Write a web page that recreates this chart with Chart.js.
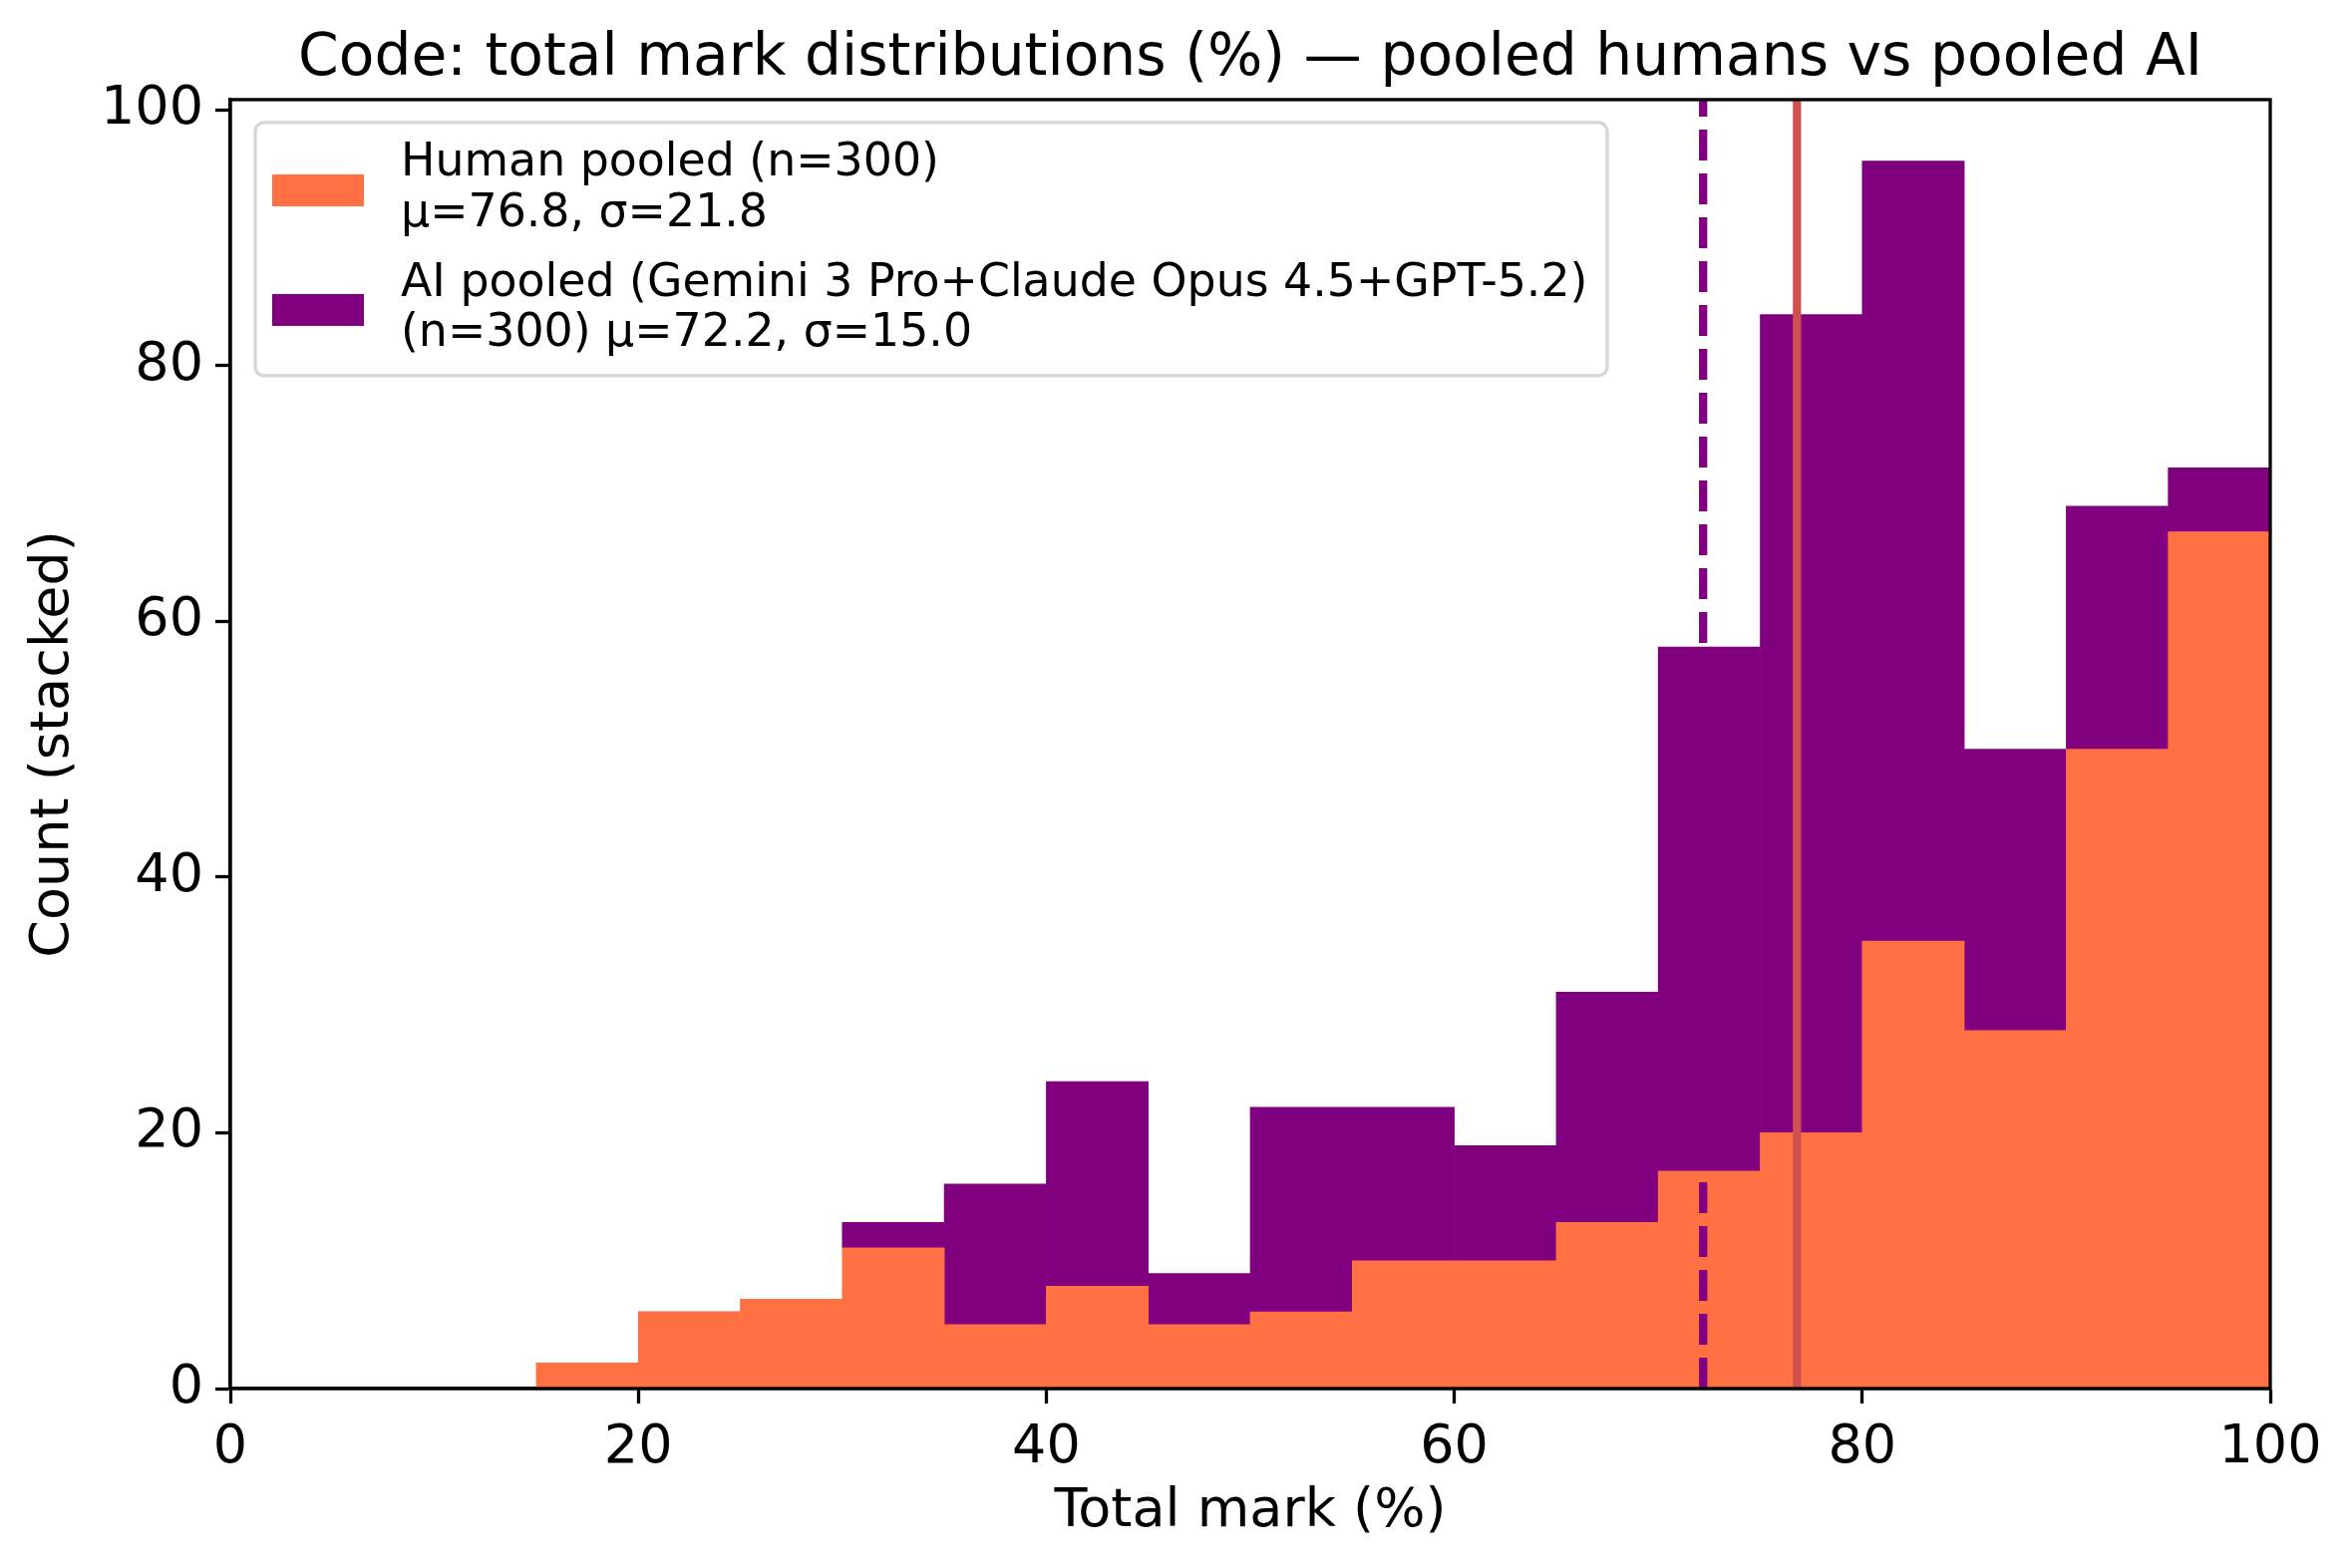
<!DOCTYPE html>
<html>
<head>
<meta charset="utf-8">
<script src="https://cdn.jsdelivr.net/npm/chart.js@4.4.1/dist/chart.umd.min.js"></script>
<style>
  html, body { margin: 0; padding: 0; background: #fff; }
  canvas { display: block; }
</style>
</head>
<body>
<canvas id="histChart" width="2359" height="1573"></canvas>
<script>
// Histogram bins (5-point wide) and stacked counts
const binWidth = 5;
const binStarts = [0, 5, 10, 15, 20, 25, 30, 35, 40, 45, 50, 55, 60, 65, 70, 75, 80, 85, 90, 95];
const humanCounts = [0, 0, 0, 2, 6, 7, 11, 5, 8, 5, 6, 10, 10, 13, 17, 20, 35, 28, 50, 67];
const aiCounts = [0, 0, 0, 0, 0, 0, 2, 11, 16, 4, 16, 12, 9, 18, 41, 64, 61, 22, 19, 5];

// Mean markers
const humanMean = 76.8;
const aiMean = 72.2;

const xTicks = [0, 20, 40, 60, 80, 100];
const yTicks = [0, 20, 40, 60, 80, 100];
const yMax = 100.8;

const seriesNames = ['Human pooled', 'AI pooled'];
const legendLines = [
    ['Human pooled (n=300)', 'μ=76.8, σ=21.8'],
    ['AI pooled (Gemini 3 Pro+Claude Opus 4.5+GPT-5.2)', '(n=300) μ=72.2, σ=15.0']
];

const titleText = 'Code: total mark distributions (%) — pooled humans vs pooled AI';
const xTitle = 'Total mark (%)';
const yTitle = 'Count (stacked)';

const humanColor = '#ff7043';
const aiColor = '#800080';
const humanMeanColor = '#d0504f';
const fontFamily = "'DejaVu Sans', sans-serif";

const toPoints = counts => counts.map((c, i) => ({ x: binStarts[i] + binWidth / 2, y: c }));
const vline = v => [{ x: v, y: 0 }, { x: v, y: yMax }];

// spines on all four sides + the matplotlib style legend box
const frameAndLegend = {
    id: 'frameAndLegend',
    afterDatasetsDraw(chart) {
        const { ctx, chartArea: a } = chart;
        ctx.save();
        ctx.strokeStyle = '#000';
        ctx.lineWidth = 3.3;
        ctx.strokeRect(a.left, a.top, a.right - a.left, a.bottom - a.top);

        const bx = a.left + 25, by = a.top + 23, bw = 1356, bh = 254;
        ctx.beginPath();
        ctx.roundRect(bx, by, bw, bh, 9);
        ctx.fillStyle = 'rgba(255,255,255,0.8)';
        ctx.fill();
        ctx.strokeStyle = '#d6d6d6';
        ctx.lineWidth = 3.3;
        ctx.stroke();

        const colors = [humanColor, aiColor];
        const patchTop = [a.top + 75, a.top + 195];
        const baselines = [[a.top + 76, a.top + 127], [a.top + 197, a.top + 247]];
        ctx.font = '45.8px ' + fontFamily;
        ctx.textBaseline = 'alphabetic';
        legendLines.forEach((lines, i) => {
            ctx.fillStyle = colors[i];
            ctx.fillRect(a.left + 42, patchTop[i], 92, 32);
            ctx.fillStyle = '#000';
            lines.forEach((txt, j) => ctx.fillText(txt, a.left + 171, baselines[i][j]));
        });
        ctx.restore();
    }
};

new Chart(document.getElementById('histChart').getContext('2d'), {
    data: {
        datasets: [
            {
                type: 'line',
                label: 'AI mean',
                data: vline(aiMean),
                borderColor: aiColor,
                borderWidth: 8.3,
                borderDash: [31, 13],
                borderCapStyle: 'butt',
                pointRadius: 0,
                stack: 'aiMean',
                order: 0
            },
            {
                type: 'line',
                label: 'Human mean',
                data: vline(humanMean),
                borderColor: humanMeanColor,
                borderWidth: 8.3,
                pointRadius: 0,
                stack: 'humanMean',
                order: 0
            },
            {
                type: 'bar',
                label: seriesNames[0],
                data: toPoints(humanCounts),
                backgroundColor: humanColor,
                borderWidth: 0,
                barPercentage: 1,
                categoryPercentage: 1,
                stack: 'hist',
                order: 1
            },
            {
                type: 'bar',
                label: seriesNames[1],
                data: toPoints(aiCounts),
                backgroundColor: aiColor,
                borderWidth: 0,
                barPercentage: 1,
                categoryPercentage: 1,
                stack: 'hist',
                order: 1
            }
        ]
    },
    options: {
        responsive: false,
        devicePixelRatio: 1,
        animation: false,
        layout: { padding: { left: 0, right: 82, top: 0, bottom: 0 } },
        plugins: {
            legend: { display: false },
            tooltip: { enabled: false },
            title: {
                display: true,
                text: titleText,
                fullSize: false,
                color: '#000',
                font: { family: fontFamily, size: 58.3, weight: 'normal', lineHeight: 1.2 },
                padding: { top: 25, bottom: 5 }
            }
        },
        scales: {
            x: {
                type: 'linear',
                offset: false,
                min: xTicks[0],
                max: xTicks[xTicks.length - 1],
                afterFit: s => { s.height = 180; },
                afterBuildTicks: s => { s.ticks = xTicks.map(v => ({ value: v })); },
                grid: { offset: false, drawOnChartArea: false, drawTicks: true, tickLength: 15, tickWidth: 3.3, tickColor: '#000' },
                border: { display: true, color: '#000', width: 3.3 },
                ticks: { color: '#000', padding: 13, font: { family: fontFamily, size: 54 } },
                title: {
                    display: true,
                    text: xTitle,
                    color: '#000',
                    font: { family: fontFamily, size: 54, lineHeight: 1.2 },
                    padding: { top: 0, bottom: 24 }
                }
            },
            y: {
                min: 0,
                max: yMax,
                afterFit: s => { s.width = 231; },
                afterBuildTicks: s => { s.ticks = yTicks.map(v => ({ value: v })); },
                grid: { drawOnChartArea: false, drawTicks: true, tickLength: 15, tickWidth: 3.3, tickColor: '#000' },
                border: { display: true, color: '#000', width: 3.3 },
                ticks: { color: '#000', padding: 12, font: { family: fontFamily, size: 54 } },
                title: {
                    display: true,
                    text: yTitle,
                    color: '#000',
                    font: { family: fontFamily, size: 54, lineHeight: 1.2 },
                    padding: { top: 22, bottom: 0 }
                }
            }
        }
    },
    plugins: [frameAndLegend]
});
</script>
</body>
</html>
